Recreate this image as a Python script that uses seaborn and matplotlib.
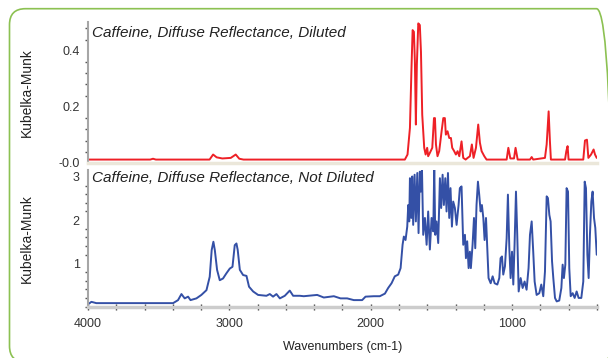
import matplotlib
matplotlib.use("Agg")
import matplotlib.pyplot as plt
from matplotlib.patches import FancyBboxPatch
from matplotlib.ticker import MultipleLocator
import pandas as pd
import seaborn as sns

# spectrum: wavenumber (cm-1) and Kubelka-Munk value
diluted_wn = [3995, 3560, 3540, 3520, 3140, 3115, 3090, 3050, 2990, 2955, 2930, 2900,
              1830, 1759, 1740, 1723, 1712, 1704, 1695, 1688, 1681, 1674, 1664, 1653,
              1645, 1636, 1622, 1612, 1601, 1594, 1582, 1565, 1553, 1546, 1539, 1528,
              1516, 1499, 1487, 1476, 1469, 1457, 1445, 1433, 1424, 1410, 1398, 1386,
              1374, 1358, 1346, 1329, 1315, 1299, 1285, 1273, 1256, 1240, 1228, 1216,
              1197, 1181, 1039, 1027, 1013, 987, 976, 961, 874, 862, 851, 768, 756,
              742, 733, 726, 626, 617, 608, 601, 497, 485, 471, 461, 442, 424, 414, 402]
diluted_km = [0.012, 0.012, 0.015, 0.012, 0.012, 0.030, 0.020, 0.016, 0.018, 0.030, 0.015, 0.012,
              0.012, 0.012, 0.030, 0.125, 0.338, 0.474, 0.468, 0.362, 0.137, 0.350, 0.498, 0.492,
              0.397, 0.172, 0.054, 0.030, 0.054, 0.024, 0.036, 0.054, 0.160, 0.160, 0.066, 0.024,
              0.042, 0.113, 0.160, 0.160, 0.101, 0.113, 0.089, 0.089, 0.054, 0.042, 0.030, 0.042,
              0.024, 0.077, 0.018, 0.012, 0.018, 0.024, 0.066, 0.018, 0.054, 0.137, 0.072, 0.042,
              0.024, 0.012, 0.012, 0.054, 0.016, 0.016, 0.054, 0.012, 0.012, 0.021, 0.012, 0.018, 0.066,
              0.184, 0.078, 0.012, 0.012, 0.042, 0.060, 0.012, 0.012, 0.080, 0.083, 0.018, 0.030,
              0.048, 0.030, 0.018]

neat_wn = [3998, 3988, 3976, 3941, 3398, 3363, 3339, 3316, 3292, 3275, 3233, 3198, 3162,
           3139, 3125, 3113, 3103, 3087, 3068, 3045, 3021, 2997, 2978, 2962, 2950, 2941,
           2926, 2903, 2879, 2861, 2832, 2797, 2738, 2714, 2691, 2667, 2643, 2608, 2573,
           2549, 2502, 2474, 2379, 2332, 2261, 2214, 2167, 2120, 2061, 2037, 1978,
           1936, 1900, 1877, 1853, 1830, 1806, 1789, 1775, 1766, 1754, 1742, 1735, 1728,
           1723, 1714, 1707, 1700, 1690, 1681, 1671, 1662, 1653, 1646, 1638, 1629, 1617,
           1605, 1594, 1582, 1570, 1558, 1551, 1544, 1535, 1523, 1511, 1502, 1492, 1483,
           1473, 1464, 1454, 1445, 1436, 1426, 1417, 1405, 1393, 1379, 1370, 1358, 1346,
           1334, 1327, 1318, 1308, 1299, 1292, 1280, 1270, 1261, 1252, 1242, 1233, 1223,
           1214, 1204, 1195, 1185, 1176, 1167, 1152, 1138, 1124, 1105, 1091, 1082, 1072,
           1063, 1051, 1039, 1030, 1020, 1011, 1001, 992, 983, 973, 964, 954, 940, 926,
           912, 898, 884, 874, 862, 851, 841, 827, 808, 794, 780, 768, 756, 747, 737, 728,
           718, 709, 697, 685, 667, 652, 643, 634, 624, 615, 605, 596, 586, 572, 558, 544,
           530, 511, 497, 487, 478, 468, 459, 450, 440, 431, 421, 412, 402]
neat_km = [0.06, 0.08, 0.11, 0.08, 0.08, 0.15, 0.29, 0.19, 0.23, 0.15, 0.19, 0.27, 0.38,
           0.69, 1.31, 1.50, 1.31, 0.85, 0.61, 0.65, 0.77, 0.88, 0.92, 1.42, 1.46, 1.31,
           0.85, 0.73, 0.71, 0.46, 0.35, 0.27, 0.25, 0.29, 0.23, 0.29, 0.19, 0.25, 0.37,
           0.25, 0.25, 0.24, 0.27, 0.21, 0.24, 0.19, 0.19, 0.15, 0.15, 0.23, 0.24,
           0.24, 0.30, 0.43, 0.54, 0.70, 0.74, 0.89, 1.43, 1.62, 1.54, 1.85, 2.35, 1.97,
           2.97, 2.05, 3.01, 1.89, 3.05, 1.97, 3.09, 1.70, 3.12, 2.66, 3.20, 1.66, 2.05,
           1.43, 2.20, 1.32, 2.05, 1.74, 3.25, 1.66, 1.97, 1.47, 2.97, 2.28, 3.05, 2.35,
           2.97, 2.20, 3.09, 2.05, 2.74, 1.85, 2.43, 2.28, 1.89, 2.35, 2.74, 2.78, 1.43,
           1.66, 1.12, 1.51, 0.89, 1.27, 0.89, 1.43, 2.05, 1.35, 2.35, 2.89, 2.59, 2.20,
           2.35, 2.05, 1.54, 2.05, 1.35, 0.66, 0.54, 0.70, 0.54, 0.51, 0.66, 1.12, 1.16,
           0.74, 0.93, 1.58, 2.59, 1.35, 0.66, 1.27, 0.51, 1.43, 2.66, 1.66, 0.35, 0.66, 0.43,
           0.58, 0.39, 0.89, 1.66, 1.97, 1.27, 0.58, 0.27, 0.31, 0.51, 0.24, 0.81, 2.55, 2.51,
           2.12, 1.97, 1.05, 0.66, 0.20, 0.12, 0.14, 0.43, 0.97, 0.66, 0.97, 2.74, 2.66, 0.89,
           0.24, 0.31, 0.20, 0.35, 0.20, 0.20, 0.58, 2.89, 2.74, 1.20, 0.66, 1.66, 2.43, 2.66,
           2.05, 1.82, 1.20]

titles = ["Caffeine, Diffuse Reflectance, Diluted",
          "Caffeine, Diffuse Reflectance, Not Diluted"]

sns.set_style("white")
plt.rcParams["font.family"] = ["Liberation Sans", "DejaVu Sans"]

df_dil = pd.DataFrame({"wn": diluted_wn, "km": diluted_km})
df_neat = pd.DataFrame({"wn": neat_wn, "km": neat_km})

fig = plt.figure(figsize=(6.08, 3.58), dpi=100)
ax1 = fig.add_axes([0.1447, 0.5433, 0.8372, 0.3953])
ax2 = fig.add_axes([0.1447, 0.1436, 0.8372, 0.3816])

sns.lineplot(data=df_dil, x="wn", y="km", ax=ax1, color="#ee2026", lw=1.4,
             sort=False, estimator=None)
sns.lineplot(data=df_neat, x="wn", y="km", ax=ax2, color="#3450a6", lw=1.4,
             sort=False, estimator=None)

for ax in (ax1, ax2):
    ax.set_xlim(4000, 400)
    ax.spines["top"].set_visible(False)
    ax.spines["right"].set_visible(False)
    ax.spines["left"].set_color("#a6a6a6")
    ax.spines["left"].set_linewidth(1.5)
    ax.set_ylabel("Kubelka-Munk", fontsize=10, color="#222222")
    ax.tick_params(axis="y", which="major", direction="out", length=4, width=1,
                   color="#555555", labelsize=9, labelcolor="#333333", pad=2)
    ax.tick_params(axis="y", which="minor", direction="out", length=2.5, width=1,
                   color="#555555", left=True)
    ax.yaxis.set_label_coords(-0.107, 0.5)

ax1.set_ylim(-0.002, 0.503)
ax1.set_yticks([0.0, 0.2, 0.4])
ax1.set_yticklabels(["-0.0", "0.2", "0.4"])
ax1.yaxis.set_minor_locator(MultipleLocator(0.04))
ax1.spines["bottom"].set_color("#ebe7da")
ax1.spines["bottom"].set_linewidth(2.5)
ax1.set_xticks([])
ax1.set_xlabel("")

ax2.set_ylim(0.0, 3.16)
ax2.set_yticks([1, 2, 3])
ax2.yaxis.set_minor_locator(MultipleLocator(0.2))
ax2.spines["bottom"].set_color("#cccccc")
ax2.spines["bottom"].set_linewidth(2.5)
ax2.set_xticks([4000, 3000, 2000, 1000])
ax2.xaxis.set_minor_locator(MultipleLocator(200))
ax2.tick_params(axis="x", which="both", direction="inout", length=4, width=1,
                color="#444444", bottom=True, labelsize=9, labelcolor="#333333", pad=6)
ax2.set_xlabel("Wavenumbers (cm-1)", fontsize=9, color="#222222", labelpad=8)

ax1.annotate(titles[0], xy=(0, 1), xycoords="axes fraction", xytext=(4, -4),
             textcoords="offset pixels", ha="left", va="top", style="italic",
             fontsize=11, color="#222222")
ax2.annotate(titles[1], xy=(0, 1), xycoords="axes fraction", xytext=(4, -1),
             textcoords="offset pixels", ha="left", va="top", style="italic",
             fontsize=11, color="#222222")

# rounded green frame around the figure
frame = FancyBboxPatch((0.095, -0.04), 6.03, 3.533,
                       boxstyle="round,pad=0,rounding_size=0.16",
                       transform=fig.dpi_scale_trans, fill=False,
                       edgecolor="#8cc152", lw=1.2, clip_on=False)
fig.patches.append(frame)

fig.savefig("out.png", dpi=100)
